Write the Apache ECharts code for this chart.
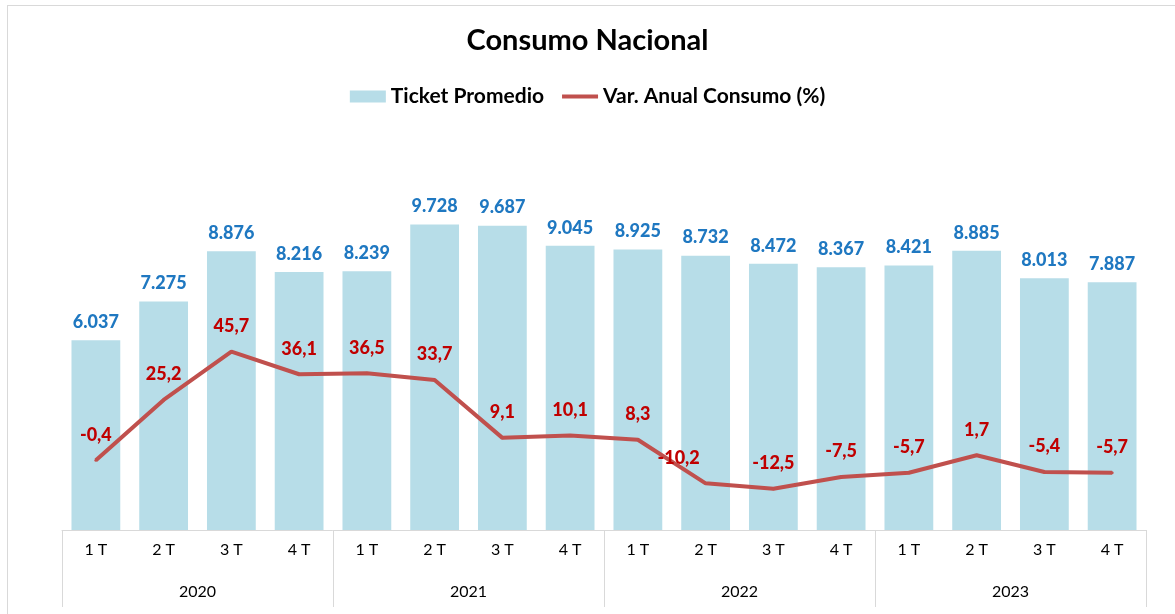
<!DOCTYPE html>
<html>
<head>
<meta charset="utf-8">
<script src="https://cdn.jsdelivr.net/npm/echarts@6/dist/echarts.min.js"></script>
<style>
  html, body { margin: 0; padding: 0; background: #fff; overflow: hidden; }
  #chart { position: absolute; left: 0; top: 0; width: 1175px; height: 614px; }
  #frame { position: absolute; left: 7px; top: 5px; width: 1200px; height: 700px;
           border-left: 1px solid #d9d9d9; border-top: 1px solid #d9d9d9; pointer-events: none; }
</style>
</head>
<body>
<div id="chart"></div>
<div id="frame"></div>
<script>
// datos del grafico
var quarters = ["1 T", "2 T", "3 T", "4 T", "1 T", "2 T", "3 T", "4 T",
                "1 T", "2 T", "3 T", "4 T", "1 T", "2 T", "3 T", "4 T"];
var years = ["2020", "2021", "2022", "2023"];
var ticketPromedio = [6037, 7275, 8876, 8216, 8239, 9728, 9687, 9045,
                      8925, 8732, 8472, 8367, 8421, 8885, 8013, 7887];
var varAnual = [-0.4, 25.2, 45.7, 36.1, 36.5, 33.7, 9.1, 10.1,
                8.3, -10.2, -12.5, -7.5, -5.7, 1.7, -5.4, -5.7];

var font = "Lato, 'Open Sans', sans-serif";

function miles(v) {
  return String(v).replace(/\B(?=(\d{3})+(?!\d))/g, ".");
}
function coma(v) {
  return v.toFixed(1).replace(".", ",");
}

var myChart = echarts.init(document.getElementById("chart"));
myChart.setOption({
  animation: false,
  textStyle: { fontFamily: font },
  title: {
    text: "Consumo Nacional",
    left: "center",
    top: 21,
    textStyle: { fontSize: 29, fontWeight: "bold", color: "#000", fontFamily: font }
  },
  legend: {
    top: 81,
    left: "center",
    itemGap: 16,
    itemWidth: 36,
    itemHeight: 12,
    textStyle: { fontSize: 21, fontWeight: "bold", color: "#000", fontFamily: font },
    data: [
      { name: "Ticket Promedio", icon: "rect" },
      { name: "Var. Anual Consumo (%)", itemStyle: { opacity: 0 }, lineStyle: { width: 4 } }
    ]
  },
  grid: { left: 62, right: 29, top: 153, bottom: 84 },
  xAxis: [
    {
      type: "category",
      data: quarters,
      axisLine: { onZero: false, lineStyle: { color: "#d9d9d9", width: 1 } },
      axisTick: { show: false },
      axisLabel: { color: "#000", fontSize: 16, margin: 12, interval: 0 }
    },
    {
      type: "category",
      data: years,
      position: "bottom",
      axisLine: { show: false, onZero: false },
      axisTick: { show: true, length: 77, lineStyle: { color: "#d9d9d9" } },
      axisLabel: { color: "#000", fontSize: 16, margin: 54, interval: 0 }
    }
  ],
  yAxis: [
    { type: "value", min: 0, max: 12000, show: false, splitLine: { show: false } },
    { type: "value", min: -30, max: 130, show: false, splitLine: { show: false } }
  ],
  series: [
    {
      name: "Ticket Promedio",
      type: "bar",
      xAxisIndex: 0,
      yAxisIndex: 0,
      barWidth: "72%",
      itemStyle: { color: "#b7dde8" },
      label: {
        show: true,
        position: "top",
        distance: 9,
        color: "#1f78c1",
        fontSize: 18,
        fontWeight: 900,
        formatter: function (p) { return miles(p.value); }
      },
      data: ticketPromedio
    },
    {
      name: "Var. Anual Consumo (%)",
      type: "line",
      xAxisIndex: 0,
      yAxisIndex: 1,
      symbol: "circle",
      symbolSize: 3,
      showSymbol: true,
      lineStyle: { color: "#c0504d", width: 4 },
      itemStyle: { color: "#c0504d" },
      label: {
        show: true,
        position: "top",
        distance: 15,
        color: "#c00000",
        fontSize: 18,
        fontWeight: 900,
        formatter: function (p) { return coma(p.value); }
      },
      data: varAnual.map(function (v, i) {
        return i === 9 ? { value: v, label: { offset: [-27, 0] } } : v;
      })
    }
  ]
});
</script>
</body>
</html>
